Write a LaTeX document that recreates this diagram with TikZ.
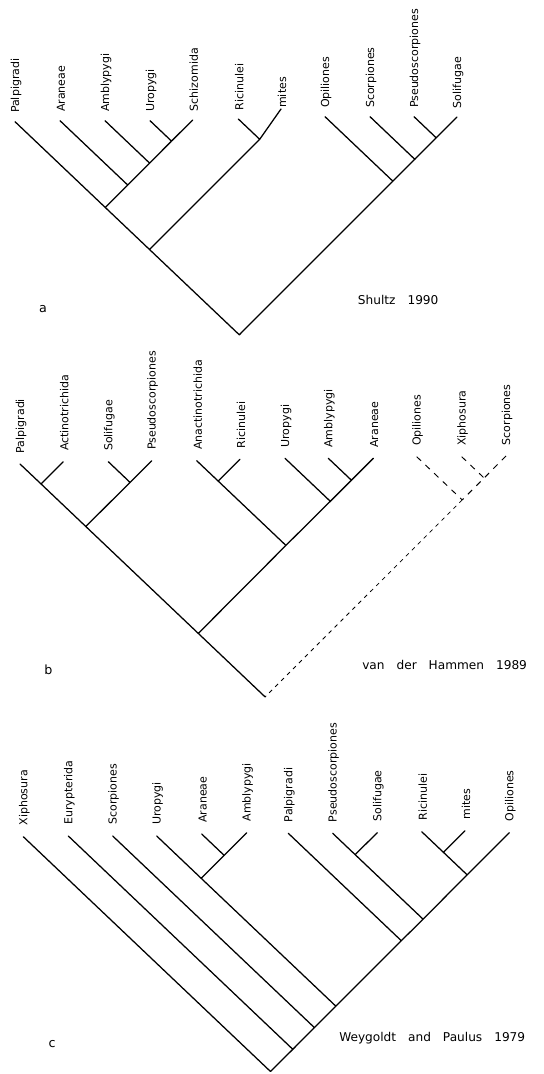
\documentclass[tikz,border=0pt]{standalone}
\usepackage{fontspec}
\setmainfont{DejaVu Sans}
\usetikzlibrary{calc}
\newcommand{\wgap}{\hspace{9pt}}
\begin{document}
\begin{tikzpicture}[x=0.75pt,y=-0.75pt,
  branch/.style={line width=0.95pt, line cap=round},
  dbranch/.style={line width=0.7pt, dash pattern=on 4.5pt off 4.5pt},
  dlong/.style={line width=0.6pt, dash pattern=on 3pt off 3.3pt},
  taxon/.style={rotate=90, anchor=west, inner sep=0pt, font=\fontsize{8.25pt}{9pt}\selectfont},
  caption/.style={anchor=west, inner sep=0pt, font=\fontsize{9.1pt}{10pt}\selectfont},
  panel/.style={inner sep=0pt, font=\fontsize{9.5pt}{10pt}\selectfont}]
\useasboundingbox (0,0) rectangle (543,1074);

% ---------------- tree a ----------------
\foreach \n/\x/\y/\t in {P/15/121.7/Palpigradi, Ar/60/120.7/Araneae, Am/105/120.7/Amblypygi,
  U/150/120.7/Uropygi, Sc/192.7/120/Schizomida, R/238.3/119/Ricinulei,
  O/325/116.7/Opiliones, Sp/370/116.7/Scorpiones, Ps/414/116.7/Pseudoscorpiones, So/457/117/Solifugae}{
  \coordinate (a\n) at (\x,\y);
  \node[taxon] (la\n) at (\x+1,\y-8.5) {\t};
}
\coordinate (aM) at (281,109);
\node[taxon] (laM) at (282,108) {mites};
\coordinate (aUS) at (171.5,141.1);
\coordinate (aAmU) at (149.6,163.1);
\coordinate (aArA) at (127.7,185.0);
\coordinate (aPA) at (105.3,207.5);
\coordinate (aRM) at (259.7,139.3);
\coordinate (aL) at (149.5,249.5);
\coordinate (aPS) at (436.2,137.8);
\coordinate (aSPS) at (414.8,159.3);
\coordinate (aOR) at (392.8,181.1);
\coordinate (aRoot) at (239.3,334.8);
\draw[branch] (aU) -- (aUS) (aSc) -- (aUS)
  (aAm) -- (aAmU) (aUS) -- (aAmU)
  (aAr) -- (aArA) (aAmU) -- (aArA)
  (aP) -- (aPA) (aArA) -- (aPA)
  (aR) -- (aRM) (aM) -- (aRM)
  (aPA) -- (aL) (aRM) -- (aL)
  (aPs) -- (aPS) (aSo) -- (aPS)
  (aSp) -- (aSPS) (aPS) -- (aSPS)
  (aO) -- (aOR) (aSPS) -- (aOR)
  (aL) -- (aRoot) (aOR) -- (aRoot);
\node[panel] (pa) at (43,309) {a};
\node[caption] (ca) at (357.7,300) {Shultz\wgap 1990};

% ---------------- tree b ----------------
\foreach \n/\x/\y/\t in {P/20/464/Palpigradi, Ac/63.3/461.7/Actinotrichida, So/108.3/461.7/Solifugae,
  Ps/151.7/460.7/Pseudoscorpiones, An/196.7/460.7/Anactinotrichida, R/240/459.3/Ricinulei,
  U/285/458.3/Uropygi, Am/328.3/458.3/Amblypygi, Ar/373.3/458.3/Araneae,
  O/416.7/456.7/Opiliones, X/461.7/456.7/Xiphosura, Sc/506/456/Scorpiones}{
  \coordinate (b\n) at (\x,\y);
  \node[taxon] (lb\n) at (\x+1,\y-10.5) {\t};
}
\coordinate (bPA) at (41.0,483.9);
\coordinate (bSP) at (130.05,482.4);
\coordinate (bL) at (85.8,526.5);
\coordinate (bAR) at (218.2,481.1);
\coordinate (bAA) at (351.4,480.2);
\coordinate (bUA) at (330.3,501.3);
\coordinate (bM) at (285.9,545.4);
\coordinate (bLM) at (198.3,633.4);
\coordinate (bXS) at (484.1,478.0);
\coordinate (bOXS) at (462.2,499.9);
\coordinate (bRoot) at (265.1,696.9);
\draw[branch] (bP) -- (bPA) (bAc) -- (bPA)
  (bSo) -- (bSP) (bPs) -- (bSP)
  (bPA) -- (bL) (bSP) -- (bL)
  (bAn) -- (bAR) (bR) -- (bAR)
  (bAm) -- (bAA) (bAr) -- (bAA)
  (bU) -- (bUA) (bAA) -- (bUA)
  (bAR) -- (bM) (bUA) -- (bM)
  (bL) -- (bLM) (bM) -- (bLM)
  (bLM) -- (bRoot);
\draw[dbranch] (bO) -- (bOXS);
\draw[dbranch] (bX) -- (bXS);
\draw[dbranch] (bSc) -- (bXS) -- (bOXS);
\draw[dlong] (bOXS) -- (bRoot);
\node[panel] (pb) at (48.5,670) {b};
\node[caption] (cb) at (362,665) {van\wgap der\wgap Hammen\wgap 1989};

% ---------------- tree c ----------------
\foreach \n/\x/\y/\t in {X/23.3/836.7/Xiphosura, E/68.3/836/Eurypterida, Sc/112.7/836/Scorpiones,
  U/156.7/836/Uropygi, Ar/201.7/834/Araneae, Am/246.7/832.7/Amblypygi,
  P/288.3/833.3/Palpigradi, Ps/332.7/833.3/Pseudoscorpiones, So/377.3/832.7/Solifugae,
  R/421.7/831.7/Ricinulei, M/465/830.7/mites, O/509.3/832.7/Opiliones}{
  \coordinate (c\n) at (\x,\y);
  \node[taxon] (lc\n) at (\x+1,\y-11) {\t};
}
\coordinate (cAA) at (224.1,855.3);
\coordinate (cUA) at (201.2,878.3);
\coordinate (cPS) at (355.1,854.6);
\coordinate (cRM) at (443.4,852.3);
\coordinate (cRMO) at (467.1,874.8);
\coordinate (cPSR) at (423.1,919.2);
\coordinate (cPP) at (401.3,940.7);
\coordinate (cUP) at (335.8,1006.1);
\coordinate (cSU) at (314.4,1027.6);
\coordinate (cEU) at (292.8,1049.3);
\coordinate (cRoot) at (270.5,1071.5);
\draw[branch] (cAr) -- (cAA) (cAm) -- (cAA)
  (cU) -- (cUA) (cAA) -- (cUA)
  (cPs) -- (cPS) (cSo) -- (cPS)
  (cR) -- (cRM) (cM) -- (cRM)
  (cRM) -- (cRMO) (cO) -- (cRMO)
  (cPS) -- (cPSR) (cRMO) -- (cPSR)
  (cP) -- (cPP) (cPSR) -- (cPP)
  (cUA) -- (cUP) (cPP) -- (cUP)
  (cSc) -- (cSU) (cUP) -- (cSU)
  (cE) -- (cEU) (cSU) -- (cEU)
  (cX) -- (cRoot) (cEU) -- (cRoot);
\node[panel] (pc) at (52,1044) {c};
\node[caption] (cc) at (339,1038.3) {Weygoldt\wgap and\wgap Paulus\wgap 1979};
\end{tikzpicture}
\end{document}
